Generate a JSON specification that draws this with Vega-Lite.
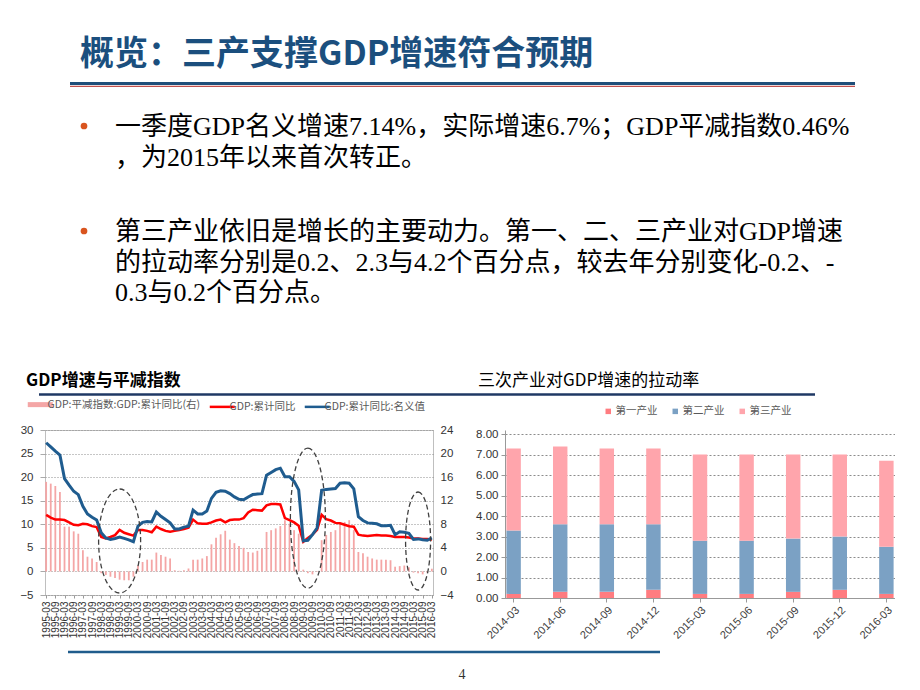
{
  "$schema": "https://vega.github.io/schema/vega-lite/v6.json",
  "padding": 0,
  "background": "white",
  "columns": 4,
  "spacing": 0,
  "bounds": "flush",
  "align": "each",
  "resolve": {"scale": {"color": "independent"}, "legend": {"color": "independent"}},
  "datasets": {
    "gdp": [
      {"d":"1995-03","p":15.2,"r":12.0,"n":27.3},{"d":"1995-06","p":14.9,"r":11.4,"n":26.4},{"d":"1995-09","p":14.5,"r":11.0,"n":25.5},{"d":"1995-12","p":13.5,"r":11.0,"n":24.7},
      {"d":"1996-03","p":7.6,"r":10.9,"n":19.7},{"d":"1996-06","p":7.6,"r":10.4,"n":18.3},{"d":"1996-09","p":6.8,"r":9.9,"n":17.0},{"d":"1996-12","p":6.4,"r":9.8,"n":16.3},
      {"d":"1997-03","p":3.6,"r":10.1,"n":13.8},{"d":"1997-06","p":2.5,"r":10.0,"n":12.2},{"d":"1997-09","p":2.2,"r":9.6,"n":11.5},{"d":"1997-12","p":1.6,"r":9.4,"n":10.9},
      {"d":"1998-03","p":-0.3,"r":7.3,"n":8.2},{"d":"1998-06","p":-0.6,"r":7.0,"n":7.1},{"d":"1998-09","p":-0.9,"r":7.3,"n":6.8},{"d":"1998-12","p":-1.1,"r":7.7,"n":7.0},
      {"d":"1999-03","p":-1.4,"r":8.8,"n":7.3},{"d":"1999-06","p":-1.5,"r":8.2,"n":7.0},{"d":"1999-09","p":-1.5,"r":7.9,"n":6.7},{"d":"1999-12","p":-0.9,"r":7.6,"n":6.3},
      {"d":"2000-03","p":1.0,"r":8.8,"n":9.6},{"d":"2000-06","p":1.6,"r":8.8,"n":10.4},{"d":"2000-09","p":2.0,"r":8.6,"n":10.6},{"d":"2000-12","p":2.0,"r":8.3,"n":10.5},
      {"d":"2001-03","p":3.2,"r":9.5,"n":12.6},{"d":"2001-06","p":2.8,"r":9.0,"n":11.7},{"d":"2001-09","p":2.5,"r":8.6,"n":11.0},{"d":"2001-12","p":2.2,"r":8.4,"n":10.3},
      {"d":"2002-03","p":0.2,"r":8.6,"n":9.0},{"d":"2002-06","p":0.1,"r":8.8,"n":9.0},{"d":"2002-09","p":0.2,"r":9.0,"n":9.4},{"d":"2002-12","p":0.5,"r":9.3,"n":9.6},
      {"d":"2003-03","p":2.0,"r":11.0,"n":13.0},{"d":"2003-06","p":2.0,"r":10.2,"n":12.2},{"d":"2003-09","p":2.2,"r":10.1,"n":12.2},{"d":"2003-12","p":2.6,"r":10.1,"n":12.8},
      {"d":"2004-03","p":4.6,"r":10.4,"n":15.5},{"d":"2004-06","p":5.7,"r":10.8,"n":16.8},{"d":"2004-09","p":6.3,"r":11.0,"n":17.1},{"d":"2004-12","p":6.9,"r":10.4,"n":17.0},
      {"d":"2005-03","p":5.4,"r":10.9,"n":16.5},{"d":"2005-06","p":4.8,"r":11.0,"n":15.8},{"d":"2005-09","p":4.3,"r":11.0,"n":15.3},{"d":"2005-12","p":4.0,"r":11.3,"n":15.2},
      {"d":"2006-03","p":3.3,"r":12.5,"n":15.8},{"d":"2006-06","p":3.2,"r":13.1,"n":16.3},{"d":"2006-09","p":3.5,"r":13.0,"n":16.4},{"d":"2006-12","p":3.9,"r":12.9,"n":16.5},
      {"d":"2007-03","p":6.7,"r":14.0,"n":20.4},{"d":"2007-06","p":7.0,"r":14.3,"n":21.0},{"d":"2007-09","p":7.3,"r":14.3,"n":21.6},{"d":"2007-12","p":7.7,"r":14.2,"n":21.9},
      {"d":"2008-03","p":8.7,"r":11.3,"n":20.1},{"d":"2008-06","p":8.1,"r":10.9,"n":20.1},{"d":"2008-09","p":7.0,"r":10.4,"n":19.1},{"d":"2008-12","p":6.4,"r":9.7,"n":17.3},
      {"d":"2009-03","p":0.3,"r":6.3,"n":6.5},{"d":"2009-06","p":-0.3,"r":7.1,"n":6.6},{"d":"2009-09","p":-0.5,"r":7.8,"n":7.8},{"d":"2009-12","p":-0.1,"r":8.8,"n":9.2},
      {"d":"2010-03","p":5.3,"r":12.0,"n":17.2},{"d":"2010-06","p":6.2,"r":11.1,"n":17.4},{"d":"2010-09","p":6.7,"r":10.8,"n":17.5},{"d":"2010-12","p":7.0,"r":10.3,"n":17.6},
      {"d":"2011-03","p":8.1,"r":10.2,"n":18.7},{"d":"2011-06","p":8.4,"r":9.9,"n":18.8},{"d":"2011-09","p":8.7,"r":9.6,"n":18.7},{"d":"2011-12","p":7.0,"r":9.5,"n":17.5},
      {"d":"2012-03","p":3.3,"r":7.8,"n":11.6},{"d":"2012-06","p":3.1,"r":7.6,"n":10.8},{"d":"2012-09","p":2.5,"r":7.5,"n":10.3},{"d":"2012-12","p":2.2,"r":7.6,"n":10.2},
      {"d":"2013-03","p":2.0,"r":7.7,"n":10.1},{"d":"2013-06","p":2.0,"r":7.6,"n":9.7},{"d":"2013-09","p":2.0,"r":7.6,"n":9.7},{"d":"2013-12","p":1.9,"r":7.5,"n":9.8},
      {"d":"2014-03","p":0.8,"r":7.3,"n":7.8},{"d":"2014-06","p":0.9,"r":7.3,"n":8.4},{"d":"2014-09","p":1.0,"r":7.3,"n":8.3},{"d":"2014-12","p":0.7,"r":7.2,"n":8.1},
      {"d":"2015-03","p":-0.2,"r":7.0,"n":6.8},{"d":"2015-06","p":-0.3,"r":7.0,"n":6.9},{"d":"2015-09","p":-0.5,"r":6.9,"n":6.7},{"d":"2015-12","p":-0.2,"r":6.9,"n":6.6},
      {"d":"2016-03","p":0.46,"r":6.7,"n":7.1}
    ]
  },
  "concat": [
    {"width": 45, "height": 1, "data": {"values": []}, "mark": "point"},
    {
      "width": 388,
      "height": 430,
      "layer": [
        {"data": {"values": [{"t": "概览：三产支撑GDP增速符合预期"}]},
         "mark": {"type": "text", "align": "left", "baseline": "middle", "font": "Noto Sans CJK SC", "fontWeight": "bold", "fontSize": 34, "color": "#1B4F7E"},
         "encoding": {"text": {"field": "t"}, "x": {"value": 35}, "y": {"value": 55}}},
        {"data": {"values": [{}]}, "mark": {"type": "rule", "color": "#1F4E79", "strokeWidth": 3},
         "encoding": {"x": {"value": 25}, "x2": {"value": 810}, "y": {"value": 83.5}}},
        {"data": {"values": [{}]}, "mark": {"type": "rule", "color": "#C0504D", "strokeWidth": 1.2},
         "encoding": {"x": {"value": 25}, "x2": {"value": 810}, "y": {"value": 86.3}}},
        {"data": {"values": [{}]}, "mark": {"type": "point", "shape": "circle", "filled": true, "size": 45, "color": "#D9541E", "opacity": 1},
         "encoding": {"x": {"value": 39}, "y": {"value": 126}}},
        {"data": {"values": [{}]}, "mark": {"type": "point", "shape": "circle", "filled": true, "size": 45, "color": "#D9541E", "opacity": 1},
         "encoding": {"x": {"value": 39}, "y": {"value": 231}}},
        {"data": {"values": [{"t": ["一季度GDP名义增速7.14%，实际增速6.7%；GDP平减指数0.46%", "，为2015年以来首次转正。"]}]},
         "mark": {"type": "text", "align": "left", "baseline": "line-top", "lineHeight": 30.5, "font": "Liberation Serif, Noto Sans CJK SC", "fontSize": 26, "color": "#000000"},
         "encoding": {"text": {"field": "t"}, "x": {"value": 70}, "y": {"value": 112}}},
        {"data": {"values": [{"t": ["第三产业依旧是增长的主要动力。第一、二、三产业对GDP增速", "的拉动率分别是0.2、2.3与4.2个百分点，较去年分别变化-0.2、-", "0.3与0.2个百分点。"]}]},
         "mark": {"type": "text", "align": "left", "baseline": "line-top", "lineHeight": 30.5, "font": "Liberation Serif, Noto Sans CJK SC", "fontSize": 26, "color": "#000000"},
         "encoding": {"text": {"field": "t"}, "x": {"value": 70}, "y": {"value": 217}}},
        {"data": {"values": [{"t": "GDP增速与平减指数"}]},
         "mark": {"type": "text", "align": "left", "baseline": "middle", "font": "Noto Sans CJK SC", "fontWeight": "bold", "fontSize": 17, "color": "#000000"},
         "encoding": {"text": {"field": "t"}, "x": {"value": -19}, "y": {"value": 381}}},
        {"data": {"values": [{"t": "三次产业对GDP增速的拉动率"}]},
         "mark": {"type": "text", "align": "left", "baseline": "middle", "font": "Noto Sans CJK SC", "fontWeight": "normal", "fontSize": 17, "color": "#000000"},
         "encoding": {"text": {"field": "t"}, "x": {"value": 433}, "y": {"value": 381}}},
        {"data": {"values": [{}]}, "mark": {"type": "rule", "color": "#1F3864", "strokeWidth": 2.5},
         "encoding": {"x": {"value": -6}, "x2": {"value": 770}, "y": {"value": 394.5}}},
        {"data": {"values": [{}]}, "mark": {"type": "rule", "color": "#1F5C8C", "strokeWidth": 2.5},
         "encoding": {"x": {"value": 23}, "x2": {"value": 615}, "y": {"value": 652}}},
        {"data": {"values": [{"t": "4"}]},
         "mark": {"type": "text", "align": "center", "baseline": "middle", "font": "Liberation Serif", "fontSize": 14, "color": "#333333"},
         "encoding": {"text": {"field": "t"}, "x": {"value": 417}, "y": {"value": 675}}}
      ]
    },
    {"width": 72, "height": 1, "data": {"values": []}, "mark": "point"},
    {"width": 390, "height": 1, "data": {"values": []}, "mark": "point"},
    {"width": 45, "height": 1, "data": {"values": []}, "mark": "point"},
    {
      "width": 388,
      "height": 165,
      "view": {"stroke": "#BFBFBF", "strokeWidth": 1},
      "data": {"name": "gdp"},
      "transform": [{"fold": ["p", "r", "n"], "as": ["k", "v"]}],
      "encoding": {
        "x": {
          "field": "d", "type": "ordinal", "sort": null, "title": null,
          "scale": {"type": "point", "padding": 0.25},
          "axis": {
            "values": ["1995-03","1995-09","1996-03","1996-09","1997-03","1997-09","1998-03","1998-09","1999-03","1999-09","2000-03","2000-09","2001-03","2001-09","2002-03","2002-09","2003-03","2003-09","2004-03","2004-09","2005-03","2005-09","2006-03","2006-09","2007-03","2007-09","2008-03","2008-09","2009-03","2009-09","2010-03","2010-09","2011-03","2011-09","2012-03","2012-09","2013-03","2013-09","2014-03","2014-09","2015-03","2015-09","2016-03"],
            "labelAngle": 270, "labelFontSize": 10, "labelColor": "#333333", "labelOverlap": false,
            "labelPadding": 3, "tickSize": 3, "tickColor": "#999999", "domain": false, "grid": false
          }
        }
      },
      "layer": [
        {
          "transform": [{"filter": "datum.k == 'p'"}],
          "mark": {"type": "bar", "size": 1.8},
          "encoding": {
            "y": {
              "field": "v", "type": "quantitative", "title": null,
              "scale": {"domain": [-4, 24], "nice": false, "zero": false},
              "axis": {"orient": "right", "values": [-4, 0, 4, 8, 12, 16, 20, 24], "grid": false, "domain": false, "tickSize": 0, "labelPadding": 7, "labelFontSize": 11.5, "labelColor": "#333333", "labelOverlap": false}
            },
            "color": {
              "field": "k", "type": "nominal",
              "scale": {"domain": ["p", "r", "n"], "range": ["#F4A6A6", "#FF0000", "#1F5C8F"]},
              "legend": {
                "orient": "none", "legendX": -10, "legendY": -31, "direction": "horizontal", "title": null,
                "symbolType": "stroke", "symbolSize": 625, "symbolStrokeWidth": 3,
                "labelFont": "Noto Sans CJK SC", "labelFontSize": 10.5, "labelColor": "#595959", "labelOffset": 2, "columnPadding": 3,
                "labelExpr": "datum.value == 'p' ? 'GDP:平减指数:GDP:累计同比(右)' : datum.value == 'r' ? 'GDP:累计同比' : 'GDP:累计同比:名义值'",
                "encode": {"symbols": {"update": {
                  "stroke": {"signal": "datum.value == 'p' ? '#F4A6A6' : datum.value == 'r' ? '#FF0000' : '#1F5C8F'"},
                  "strokeWidth": {"signal": "datum.value == 'p' ? 5 : 2.5"}
                }}}
              }
            }
          }
        },
        {
          "encoding": {
            "y": {
              "field": "v", "type": "quantitative", "title": null,
              "scale": {"domain": [-5, 30], "nice": false, "zero": false},
              "axis": {"orient": "left", "values": [-5, 0, 5, 10, 15, 20, 25, 30], "grid": true, "gridColor": "#8C8C8C", "gridDash": [1, 2], "domain": false, "tickSize": 5, "tickColor": "#AAAAAA", "labelPadding": 7, "labelFontSize": 11.5, "labelColor": "#333333", "labelOverlap": false}
            }
          },
          "layer": [
            {
              "transform": [{"filter": "datum.k == 'r'"}],
              "mark": {"type": "line", "strokeWidth": 2.5},
              "encoding": {"color": {"field": "k", "type": "nominal"}}
            },
            {
              "transform": [{"filter": "datum.k == 'n'"}],
              "mark": {"type": "line", "strokeWidth": 3},
              "encoding": {"color": {"field": "k", "type": "nominal"}}
            },
            {
              "data": {"values": [{"d": "1999-03", "v": 6.45}]},
              "mark": {"type": "point", "shape": "M0,-1A0.404,1 0 1,1 0,1A0.404,1 0 1,1 0,-1Z", "size": 10816, "filled": false, "stroke": "#404040", "strokeWidth": 1.3, "strokeDash": [5, 3], "opacity": 1}
            },
            {
              "data": {"values": [{"d": "2009-06", "v": 11.3}]},
              "mark": {"type": "point", "shape": "M0,-1A0.25,1 0 1,1 0,1A0.25,1 0 1,1 0,-1Z", "size": 19600, "filled": false, "stroke": "#404040", "strokeWidth": 1.3, "strokeDash": [5, 3], "opacity": 1}
            },
            {
              "data": {"values": [{"d": "2015-06", "v": 6.45}]},
              "mark": {"type": "point", "shape": "M0,-1A0.255,1 0 1,1 0,1A0.255,1 0 1,1 0,-1Z", "size": 9604, "filled": false, "stroke": "#404040", "strokeWidth": 1.3, "strokeDash": [5, 3], "opacity": 1}
            }
          ]
        }
      ],
      "resolve": {"scale": {"y": "independent"}}
    },
    {"width": 72, "height": 1, "data": {"values": []}, "mark": "point"},
    {
      "width": 390,
      "height": 168,
      "data": {"values": [
        {"q":"2014-03","s":"第一产业","k":1,"v":0.2},{"q":"2014-03","s":"第二产业","k":2,"v":3.1},{"q":"2014-03","s":"第三产业","k":3,"v":4.0},
        {"q":"2014-06","s":"第一产业","k":1,"v":0.3},{"q":"2014-06","s":"第二产业","k":2,"v":3.3},{"q":"2014-06","s":"第三产业","k":3,"v":3.8},
        {"q":"2014-09","s":"第一产业","k":1,"v":0.3},{"q":"2014-09","s":"第二产业","k":2,"v":3.3},{"q":"2014-09","s":"第三产业","k":3,"v":3.7},
        {"q":"2014-12","s":"第一产业","k":1,"v":0.4},{"q":"2014-12","s":"第二产业","k":2,"v":3.2},{"q":"2014-12","s":"第三产业","k":3,"v":3.7},
        {"q":"2015-03","s":"第一产业","k":1,"v":0.2},{"q":"2015-03","s":"第二产业","k":2,"v":2.6},{"q":"2015-03","s":"第三产业","k":3,"v":4.2},
        {"q":"2015-06","s":"第一产业","k":1,"v":0.2},{"q":"2015-06","s":"第二产业","k":2,"v":2.6},{"q":"2015-06","s":"第三产业","k":3,"v":4.2},
        {"q":"2015-09","s":"第一产业","k":1,"v":0.3},{"q":"2015-09","s":"第二产业","k":2,"v":2.6},{"q":"2015-09","s":"第三产业","k":3,"v":4.1},
        {"q":"2015-12","s":"第一产业","k":1,"v":0.4},{"q":"2015-12","s":"第二产业","k":2,"v":2.6},{"q":"2015-12","s":"第三产业","k":3,"v":4.0},
        {"q":"2016-03","s":"第一产业","k":1,"v":0.2},{"q":"2016-03","s":"第二产业","k":2,"v":2.3},{"q":"2016-03","s":"第三产业","k":3,"v":4.2}
      ]},
      "mark": {"type": "bar"},
      "encoding": {
        "x": {
          "field": "q", "type": "ordinal", "sort": null, "title": null,
          "scale": {"paddingInner": 0.69, "paddingOuter": 0.03},
          "axis": {"labelAngle": -45, "labelFontSize": 11, "labelColor": "#404040", "tickSize": 4, "tickColor": "#999999", "domainColor": "#999999", "labelPadding": 2}
        },
        "y": {
          "field": "v", "type": "quantitative", "stack": "zero", "title": null,
          "scale": {"domain": [0, 8.2], "nice": false},
          "axis": {"values": [0, 1, 2, 3, 4, 5, 6, 7, 8], "format": ".2f", "grid": true, "gridColor": "#8C8C8C", "gridDash": [2, 2], "domainColor": "#999999", "tickSize": 4, "tickColor": "#999999", "labelFontSize": 11.5, "labelPadding": 3, "labelColor": "#333333", "labelOverlap": false}
        },
        "color": {
          "field": "s", "type": "nominal",
          "scale": {"domain": ["第一产业", "第二产业", "第三产业"], "range": ["#FF7C80", "#7BA1C4", "#FFA5AC"]},
          "legend": {
            "orient": "none", "legendX": 98, "legendY": -24, "direction": "horizontal", "title": null,
            "symbolType": "square", "symbolSize": 30, "labelFont": "Noto Sans CJK SC", "labelFontSize": 10.5, "labelColor": "#595959", "labelOffset": 2, "columnPadding": 12
          }
        },
        "order": {"field": "k", "sort": "ascending"}
      }
    }
  ],
  "config": {
    "view": {"stroke": null},
    "font": "Liberation Sans",
    "axis": {"labelFont": "Liberation Sans"},
    "legend": {"labelFont": "Noto Sans CJK SC"}
  }
}
